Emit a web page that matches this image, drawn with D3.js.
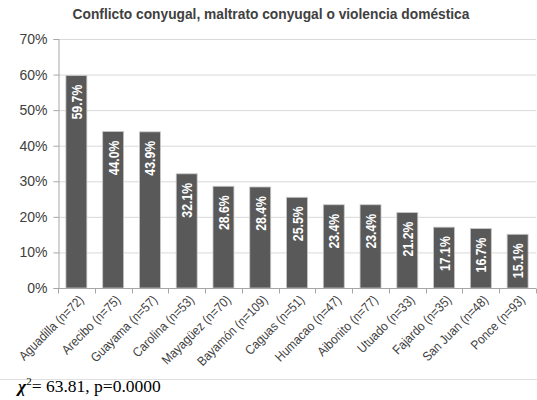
<!DOCTYPE html>
<html><head><meta charset="utf-8">
<script src="https://cdn.jsdelivr.net/npm/d3@7"></script>
<style>
body{margin:0;background:#fff;}
svg{display:block;}
</style></head>
<body>
<svg id="chart" width="537" height="400"></svg>
<script>
// Regions with sample sizes and share reporting spousal conflict/abuse
const regions = ["Aguadilla (n=72)","Arecibo (n=75)","Guayama (n=57)","Carolina (n=53)","Mayagüez (n=70)","Bayamón (n=109)","Caguas (n=51)","Humacao (n=47)","Aibonito (n=77)","Utuado (n=33)","Fajardo (n=35)","San Juan (n=48)","Ponce (n=93)"];
const percents = [59.7,44.0,43.9,32.1,28.6,28.4,25.5,23.4,23.4,21.2,17.1,16.7,15.1];
const yTicks = [0,10,20,30,40,50,60,70];
const titleText = "Conflicto conyugal, maltrato conyugal o violencia doméstica";

const svg = d3.select("#chart");
const plotLeft = 58, plotRight = 536, plotTop = 39, plotBottom = 288;

const x = d3.scaleBand().domain(regions).range([plotLeft, plotRight]).paddingInner(0.43).paddingOuter(0.215);
const y = d3.scaleLinear().domain([0, 70]).range([plotBottom, plotTop]);

// title (slightly condensed bold)
svg.append("text").attr("transform", "translate(271,19) scale(0.95,1)").attr("text-anchor", "middle")
  .attr("font-family", "Liberation Sans, Arial, sans-serif").attr("font-weight", "bold")
  .attr("font-size", 14.5).attr("fill", "#404040").text(titleText);

// gridlines
svg.append("g").selectAll("line").data(yTicks.filter(d => d > 0)).join("line")
  .attr("x1", plotLeft).attr("x2", plotRight).attr("y1", d => y(d) + 0.5).attr("y2", d => y(d) + 0.5)
  .attr("stroke", "#d9d9d9").attr("stroke-width", 1);

// bars
svg.append("g").selectAll("rect").data(percents).join("rect")
  .attr("x", (d, i) => x(regions[i])).attr("width", x.bandwidth())
  .attr("y", d => y(d)).attr("height", d => y(0) - y(d))
  .attr("fill", "#595959").attr("stroke", "#c8c8c8").attr("stroke-width", 0.8);

// value labels inside bars, condensed along the text direction
svg.append("g").selectAll("text").data(percents).join("text")
  .attr("transform", (d, i) => `translate(${x(regions[i]) + x.bandwidth() / 2 + 5.5},${y(d) + 9}) rotate(-90) scale(0.82,1)`)
  .attr("text-anchor", "end")
  .attr("font-family", "Liberation Sans, Arial, sans-serif")
  .attr("font-weight", "bold").attr("font-size", 15).attr("fill", "#ffffff")
  .text(d => d.toFixed(1) + "%");

// y axis
const yAxis = d3.axisLeft(y).tickValues(yTicks).tickFormat(d => d + "%").tickSize(5).tickPadding(6);
const gy = svg.append("g").attr("transform", `translate(${plotLeft + 0.5},0)`).call(yAxis);
gy.select(".domain").attr("stroke", "#a6a6a6");
gy.selectAll(".tick line").attr("stroke", "#a6a6a6");
gy.selectAll(".tick text").attr("font-family", "Liberation Sans, Arial, sans-serif")
  .attr("font-size", 14).attr("fill", "#404040");

// x axis with ticks at band boundaries
const gx = svg.append("g").attr("transform", `translate(0,${plotBottom + 0.5})`);
gx.append("line").attr("x1", plotLeft).attr("x2", plotRight).attr("stroke", "#a6a6a6");
const step = x.step();
const bounds = regions.map(r => x(r) - step * 0.215).concat([plotRight]);
gx.selectAll("line.tk").data(bounds).join("line").attr("class", "tk")
  .attr("x1", d => Math.round(d) + 0.5).attr("x2", d => Math.round(d) + 0.5)
  .attr("y1", 0).attr("y2", 5).attr("stroke", "#a6a6a6");
gx.selectAll("text").data(regions).join("text")
  .attr("transform", r => `translate(${x(r) + x.bandwidth() / 2 + 5},${9}) rotate(-45) scale(0.9,1)`)
  .attr("text-anchor", "end").attr("dy", "0.35em")
  .attr("font-family", "Liberation Sans, Arial, sans-serif").attr("font-size", 13)
  .attr("fill", "#404040").text(r => r);

// bottom separator
svg.append("line").attr("x1", 0).attr("x2", 537).attr("y1", 379.5).attr("y2", 379.5)
  .attr("stroke", "#e0e0e0");

// chi-square annotation
const chi = svg.append("text").attr("x", 18).attr("y", 392)
  .attr("font-family", "Liberation Serif, DejaVu Serif, serif").attr("font-size", 17.5).attr("fill", "#000");
chi.append("tspan").attr("font-weight", "bold").attr("font-style", "italic").text("χ");
chi.append("tspan").attr("font-size", 11).attr("dy", -7).text("2");
chi.append("tspan").attr("dy", 7).text("= 63.81, p=0.0000");
</script>
</body></html>
